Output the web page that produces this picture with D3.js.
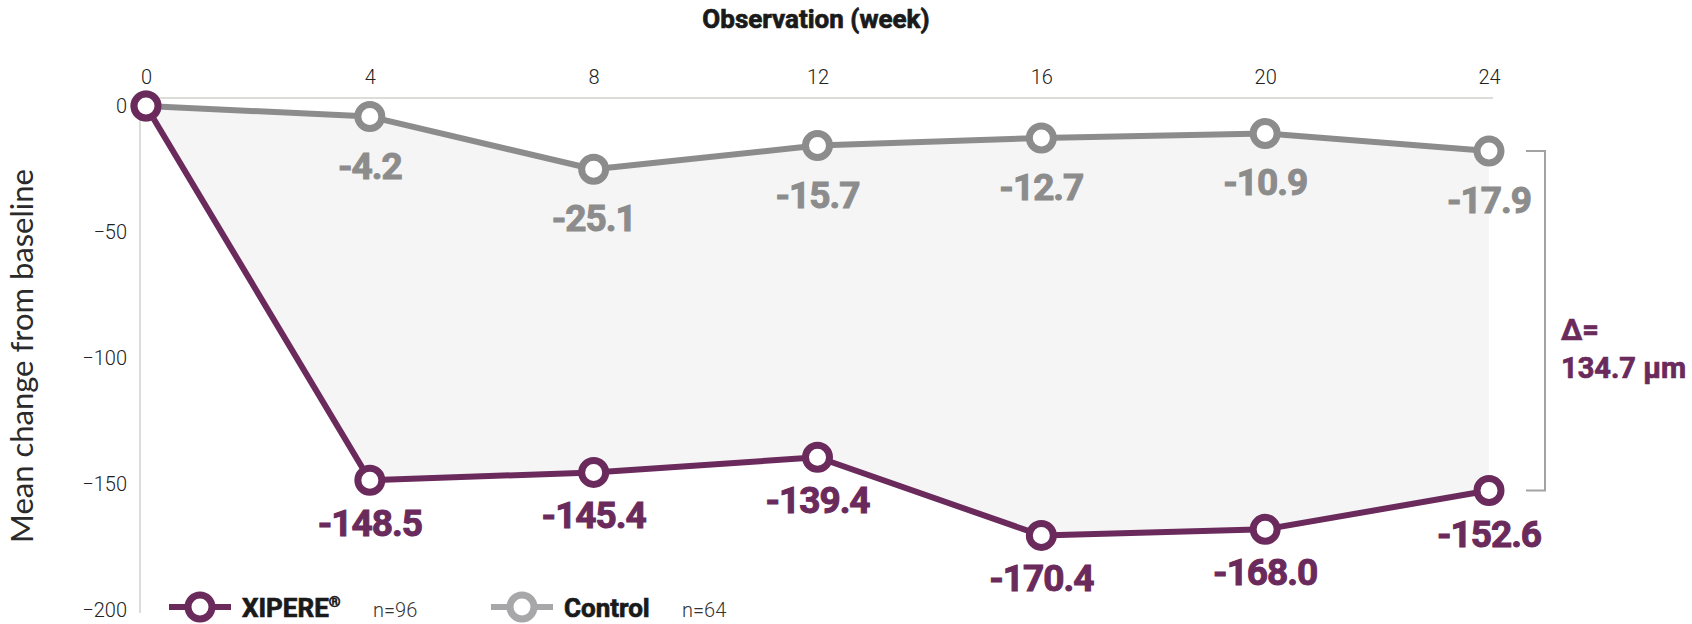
<!DOCTYPE html>
<html>
<head>
<meta charset="utf-8">
<script src="https://cdn.jsdelivr.net/npm/d3@7/dist/d3.min.js"></script>
<style>
  html, body { margin: 0; padding: 0; background: #fff; }
  svg { display: block; }
</style>
</head>
<body>
<div id="chart"></div>
<script>
// chart values
const weeks = [0, 4, 8, 12, 16, 20, 24];
const xipereValues = [0, -148.5, -145.4, -139.4, -170.4, -168.0, -152.6];
const controlValues = [0, -4.2, -25.1, -15.7, -12.7, -10.9, -17.9];
const yTickValues = [0, -50, -100, -150, -200];
const seriesNames = ["XIPERE®", "Control"];
const seriesN = ["n=96", "n=64"];
const deltaLines = ["Δ=", "134.7 µm"];
const xTitle = "Observation (week)";
const yTitle = "Mean change from baseline";

const width = 1692;
const height = 624;
const purple = "#6a2a5c";
const grey = "#8c8c8c";

const svg = d3.select("#chart")
  .append("svg")
  .attr("width", width)
  .attr("height", height);

const x = d3.scaleLinear().domain([0, 24]).range([146, 1489]);
const y = d3.scaleLinear().domain([0, -200]).range([106, 610]);

const xipere = weeks.map((w, i) => ({ w, v: xipereValues[i] }));
const control = weeks.map((w, i) => ({ w, v: controlValues[i] }));

// frame lines
svg.append("line")
  .attr("x1", 140).attr("x2", x(24) + 4)
  .attr("y1", 98).attr("y2", 98)
  .attr("stroke", "#dcdcd8").attr("stroke-width", 2);
svg.append("line")
  .attr("x1", 140).attr("x2", 140)
  .attr("y1", 98).attr("y2", y(-200) + 3)
  .attr("stroke", "#dcdcd8").attr("stroke-width", 2);

// shaded band between the two series
const band = d3.area()
  .x((d) => x(d.w))
  .y0((d, i) => y(xipereValues[i]))
  .y1((d, i) => y(controlValues[i]));
svg.append("path")
  .datum(weeks.map((w) => ({ w })))
  .attr("d", band)
  .attr("fill", "#f5f5f5");

// axes
const xAxis = svg.append("g")
  .attr("transform", "translate(0,98)")
  .call(d3.axisTop(x).tickValues(weeks).tickSize(0).tickPadding(14));
xAxis.select(".domain").remove();
xAxis.selectAll("text")
  .attr("font-family", "Roboto, sans-serif")
  .attr("font-weight", 300)
  .attr("font-size", 20)
  .attr("fill", "#222");

const yAxis = svg.append("g")
  .attr("transform", "translate(140,0)")
  .call(d3.axisLeft(y).tickValues(yTickValues).tickSize(0).tickPadding(13));
yAxis.select(".domain").remove();
yAxis.selectAll("text")
  .attr("font-family", "Roboto, sans-serif")
  .attr("font-weight", 300)
  .attr("font-size", 20)
  .attr("fill", "#222");

// titles
svg.append("text")
  .attr("x", 816)
  .attr("y", 28)
  .attr("text-anchor", "middle")
  .attr("font-family", "Roboto, sans-serif")
  .attr("font-weight", 700)
  .attr("font-size", 26)
  .attr("fill", "#1a1a1a")
  .attr("stroke", "#1a1a1a")
  .attr("stroke-width", 0.7)
  .text(xTitle);

svg.append("text")
  .attr("transform", "translate(33,356) rotate(-90)")
  .attr("text-anchor", "middle")
  .attr("font-family", "Lato, sans-serif")
  .attr("font-weight", 400)
  .attr("font-size", 31)
  .attr("fill", "#2a2a2a")
  .text(yTitle);

// lines
const line = d3.line().x((d) => x(d.w)).y((d) => y(d.v));
svg.append("path")
  .datum(control)
  .attr("d", line)
  .attr("fill", "none")
  .attr("stroke", grey)
  .attr("stroke-width", 6)
  .attr("stroke-linejoin", "round");
svg.append("path")
  .datum(xipere)
  .attr("d", line)
  .attr("fill", "none")
  .attr("stroke", purple)
  .attr("stroke-width", 6)
  .attr("stroke-linejoin", "round");

// markers
function markers(data, color) {
  svg.append("g")
    .selectAll("circle")
    .data(data)
    .join("circle")
    .attr("cx", (d) => x(d.w))
    .attr("cy", (d) => y(d.v))
    .attr("r", 12)
    .attr("fill", "#fff")
    .attr("stroke", color)
    .attr("stroke-width", 7);
}
markers(control, grey);
markers(xipere, purple);

// value labels (no label at baseline week)
function valueLabels(data, color, offset) {
  svg.append("g")
    .selectAll("text")
    .data(data.filter((d) => d.w > 0))
    .join("text")
    .attr("x", (d) => x(d.w))
    .attr("y", (d) => y(d.v) + offset)
    .attr("text-anchor", "middle")
    .attr("font-family", "Roboto, sans-serif")
    .attr("font-weight", 700)
    .attr("font-size", 37)
    .attr("letter-spacing", -1)
    .attr("fill", color)
    .attr("stroke", color)
    .attr("stroke-width", 1)
    .text((d) => d.v.toFixed(1));
}
valueLabels(control, grey, 62);
valueLabels(xipere, purple, 56);

// difference bracket at week 24
const last = weeks.length - 1;
const yTop = y(controlValues[last]);
const yBot = y(xipereValues[last]);
const bx = x(24) + 56;
svg.append("path")
  .attr("d", `M${bx - 19},${yTop}H${bx}V${yBot}H${bx - 19}`)
  .attr("fill", "none")
  .attr("stroke", "#a3a3a3")
  .attr("stroke-width", 2);

svg.append("g")
  .selectAll("text")
  .data(deltaLines)
  .join("text")
  .attr("x", bx + 16)
  .attr("y", (d, i) => 340 + i * 38)
  .attr("font-family", "Roboto, sans-serif")
  .attr("font-weight", 700)
  .attr("font-size", 29)
  .attr("fill", purple)
  .attr("stroke", purple)
  .attr("stroke-width", 0.7)
  .text((d) => d);

// legend
const legendX = [169, 491];
const legendColors = [purple, "#a7a7a9"];
const legendY = 607;
const legend = svg.append("g")
  .selectAll("g")
  .data(seriesNames)
  .join("g")
  .attr("transform", (d, i) => `translate(${legendX[i]},${legendY})`);

legend.append("line")
  .attr("x1", 0).attr("x2", 62)
  .attr("stroke", (d, i) => legendColors[i])
  .attr("stroke-width", 6);
legend.append("circle")
  .attr("cx", 31)
  .attr("r", 12)
  .attr("fill", "#fff")
  .attr("stroke", (d, i) => legendColors[i])
  .attr("stroke-width", 7);
legend.append("text")
  .attr("x", 73)
  .attr("y", 10)
  .attr("font-family", "Roboto, sans-serif")
  .attr("font-weight", 700)
  .attr("font-size", 26)
  .attr("fill", "#1a1a1a")
  .attr("stroke", "#1a1a1a")
  .attr("stroke-width", 0.7)
  .each(function (d) {
    const t = d3.select(this);
    if (d.endsWith("®")) {
      t.append("tspan").text(d.slice(0, -1));
      t.append("tspan")
        .attr("font-size", 15)
        .attr("dy", -10)
        .text("®");
    } else {
      t.text(d);
    }
  });
legend.append("text")
  .attr("x", (d, i) => (i === 0 ? 204 : 191))
  .attr("y", 10)
  .attr("font-family", "Roboto, sans-serif")
  .attr("font-weight", 300)
  .attr("font-size", 20)
  .attr("fill", "#333")
  .text((d, i) => seriesN[i]);
</script>
</body>
</html>
